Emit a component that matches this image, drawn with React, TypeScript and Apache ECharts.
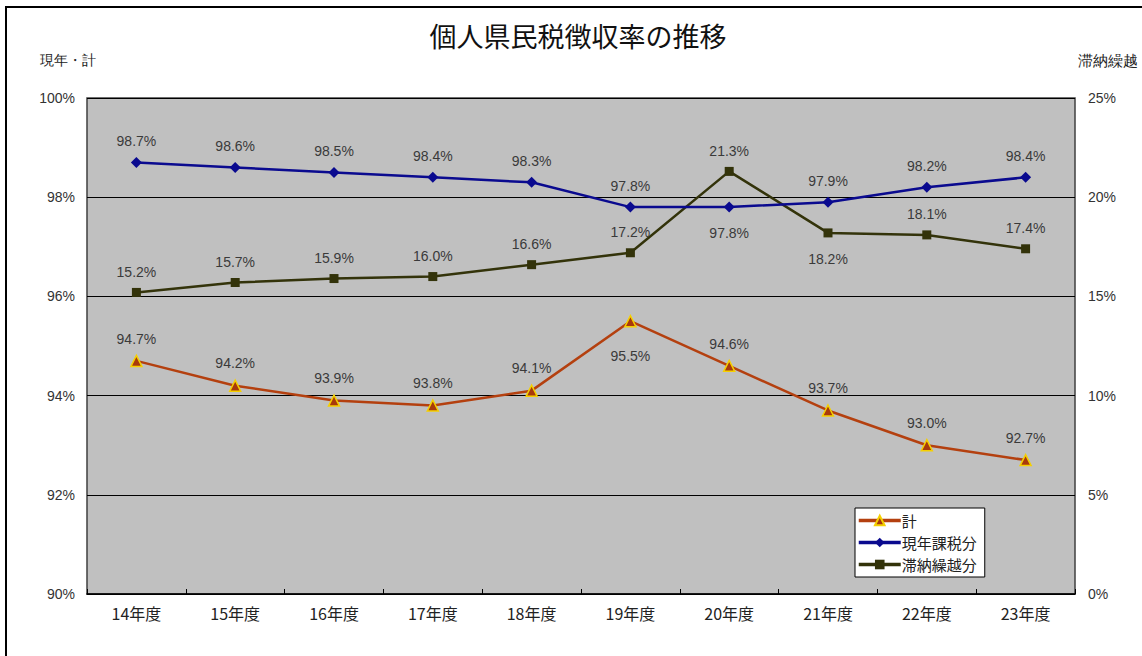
import React, { useEffect, useRef } from "react";
import * as echarts from "echarts";

const categories = ["14年度", "15年度", "16年度", "17年度", "18年度", "19年度", "20年度", "21年度", "22年度", "23年度"];
const totalRate = [94.7, 94.2, 93.9, 93.8, 94.1, 95.5, 94.6, 93.7, 93.0, 92.7];
const currentRate = [98.7, 98.6, 98.5, 98.4, 98.3, 97.8, 97.8, 97.9, 98.2, 98.4];
const arrearsRate = [15.2, 15.7, 15.9, 16.0, 16.6, 17.2, 21.3, 18.2, 18.1, 17.4];
// label placement per point: "t" = above, "b" = below
const totalPos = ["t", "t", "t", "t", "t", "b", "t", "t", "t", "t"];
const currentPos = ["t", "t", "t", "t", "t", "t", "b", "t", "t", "t"];
const arrearsPos = ["t", "t", "t", "t", "t", "t", "t", "b", "t", "t"];

const LATIN = "'Liberation Sans', Arial, 'Noto Sans CJK JP', sans-serif";
const CJK = "'Noto Sans CJK JP', 'Liberation Sans', sans-serif";

function withLabels(values: number[], pos: string[], bottomDist: number[]) {
  return values.map((v, i) => ({
    value: v,
    label: pos[i] === "b" ? { position: "bottom", distance: bottomDist[i] } : { position: "top", distance: 9 },
  }));
}

export default function App() {
  const ref = useRef<HTMLDivElement>(null);
  useEffect(() => {
    const chart = echarts.init(ref.current!, null, { renderer: "svg" });
    const labelStyle = {
      show: true,
      fontSize: 14,
      color: "#3a3a3a",
      fontFamily: LATIN,
      formatter: (p: any) => p.value.toFixed(1) + "%",
    };
    chart.setOption({
      animation: false,
      backgroundColor: "#ffffff",
      title: {
        text: "個人県民税徴収率の推移",
        left: 573,
        textAlign: "center",
        top: 17,
        textStyle: { fontSize: 27, fontWeight: "normal", color: "#111", fontFamily: CJK },
      },
      graphic: [
        {
          type: "rect",
          shape: { x: 6, y: 7, width: 1160, height: 680 },
          style: { fill: "none", stroke: "#000", lineWidth: 2 },
          silent: true,
          z: 100,
        },
        {
          type: "text",
          left: 40,
          top: 53,
          style: { text: "現年・計", fontSize: 14, fill: "#222", font: "14px " + CJK },
        },
        {
          type: "text",
          right: 4,
          top: 53,
          style: { text: "滞納繰越", fontSize: 15, fill: "#222", font: "15px " + CJK },
        },
      ],
      legend: {
        orient: "vertical",
        left: 855,
        top: 508,
        itemWidth: 42,
        itemHeight: 12,
        itemGap: 7,
        padding: [5, 8, 5, 2],
        backgroundColor: "#ffffff",
        borderColor: "#000",
        borderWidth: 1,
        borderRadius: 0,
        lineStyle: { width: 3.5 },
        textStyle: { fontSize: 15, lineHeight: 15, color: "#222", fontFamily: CJK, padding: [0, 0, 0, -4] },
        data: ["計", "現年課税分", "滞納繰越分"],
      },
      grid: {
        show: true,
        left: 87,
        right: 67,
        top: 98,
        bottom: 62,
        backgroundColor: "#c0c0c0",
        borderColor: "#404040",
        borderWidth: 1.5,
      },
      xAxis: {
        type: "category",
        data: categories,
        boundaryGap: true,
        axisLine: { lineStyle: { color: "#000", width: 1.5 } },
        axisTick: { show: true, inside: true, length: 5, lineStyle: { color: "#000" } },
        axisLabel: { fontSize: 16, color: "#222", margin: 11, fontFamily: CJK },
      },
      yAxis: [
        {
          type: "value",
          min: 90,
          max: 100,
          interval: 2,
          axisLine: { show: false },
          axisTick: { show: false },
          splitLine: { show: true, lineStyle: { color: "#000", width: 1 } },
          axisLabel: { fontSize: 14, color: "#333", fontFamily: LATIN, margin: 12, formatter: (v: number) => v + "%" },
        },
        {
          type: "value",
          min: 0,
          max: 25,
          interval: 5,
          axisLine: { show: false },
          axisTick: { show: false },
          splitLine: { show: false },
          axisLabel: { fontSize: 14, color: "#333", fontFamily: LATIN, margin: 13, formatter: (v: number) => v + "%" },
        },
      ],
      series: [
        {
          name: "計",
          type: "line",
          yAxisIndex: 0,
          data: withLabels(totalRate, totalPos, [0, 0, 0, 0, 0, 22, 0, 0, 0, 0]),
          lineStyle: { color: "#b4400f", width: 2.5 },
          itemStyle: { color: "#a83a0c", borderColor: "#f5d000", borderWidth: 1.5 },
          symbol: "triangle",
          symbolSize: 11,
          label: labelStyle,
          z: 3,
        },
        {
          name: "現年課税分",
          type: "line",
          yAxisIndex: 0,
          data: withLabels(currentRate, currentPos, [0, 0, 0, 0, 0, 0, 13, 0, 0, 0]),
          lineStyle: { color: "#0a0a8f", width: 2.5 },
          itemStyle: { color: "#0a0a8f" },
          symbol: "diamond",
          symbolSize: 11,
          label: labelStyle,
          z: 4,
        },
        {
          name: "滞納繰越分",
          type: "line",
          yAxisIndex: 1,
          data: withLabels(arrearsRate, arrearsPos, [0, 0, 0, 0, 0, 0, 0, 15, 0, 0]),
          lineStyle: { color: "#33330a", width: 2.5 },
          itemStyle: { color: "#33330a" },
          symbol: "rect",
          symbolSize: 9,
          label: labelStyle,
          z: 3,
        },
      ],
    });
    return () => chart.dispose();
  }, []);
  return (
    <div
      ref={ref}
      style={{ position: "absolute", left: 0, top: 0, width: 1142, height: 656 }}
    />
  );
}
